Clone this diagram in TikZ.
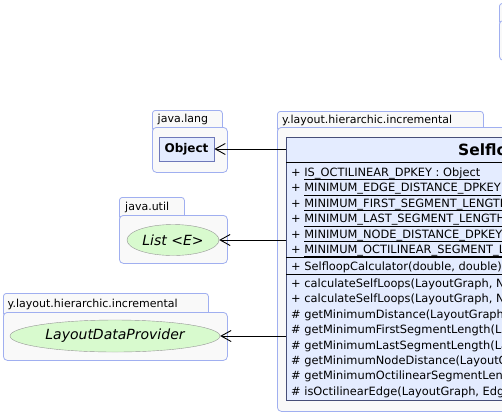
\documentclass[tikz,border=0pt]{standalone}
\usepackage{fontspec}
\setmainfont{DejaVu Sans}
\usetikzlibrary{shapes,arrows.meta}
\definecolor{pkgline}{RGB}{160,175,240}
\definecolor{pkgfill}{RGB}{249,249,249}
\definecolor{classfill}{RGB}{228,236,255}
\definecolor{classline}{RGB}{70,78,120}
\definecolor{objline}{RGB}{110,120,185}
\definecolor{ifacefill}{RGB}{216,250,206}
\definecolor{ifaceline}{RGB}{150,150,150}
\newcommand{\fieldname}[1]{\setbox0=\hbox{#1}\rlap{\rule[-3.4pt]{\wd0}{0.6pt}}\box0}
\tikzstyle{pkgtab} = [rectangle, rounded corners=3pt, anchor=north west, draw=pkgline, line width=0.8pt, fill=pkgfill, inner sep=0pt]
\tikzstyle{package} = [pkgtab, rounded corners=4pt]
\tikzstyle{pkglabel} = [anchor=base west, inner sep=0pt, font=\fontsize{11}{13}\selectfont]
\tikzstyle{classbox} = [rectangle, anchor=north west, draw=classline, fill=classfill, line width=0.9pt, inner sep=0pt]
\tikzstyle{iface} = [ellipse, draw=ifaceline, fill=ifacefill, inner sep=0pt, font=\fontsize{14}{16}\selectfont\itshape]
\tikzstyle{member} = [anchor=base west, inner sep=0pt, font=\fontsize{11.4}{13}\selectfont]
\tikzstyle{sep} = [line width=0.9pt]
\tikzstyle{arrow} = [line width=0.9pt, -{Straight Barb[length=10pt,width=11pt]}]

\begin{document}
\begin{tikzpicture}[x=1pt, y=-1pt]
\useasboundingbox (0,0) rectangle (502,416);
\clip (0,0) rectangle (502,416);

\node (toptab) [pkgtab, minimum width=40pt, minimum height=21pt] at (499,3) {};
\node (toppkg) [package, minimum width=100pt, minimum height=40pt] at (499,20) {};

\node (langtab) [pkgtab, minimum width=70pt, minimum height=21pt] at (152,110) {};
\node (langpkg) [package, minimum width=75pt, minimum height=45pt] at (152,127) {};
\node (langlabel) [pkglabel] at (157.5,122.5) {java.lang};
\node (obj) [classbox, anchor=center, draw=objline, line width=0.7pt, minimum width=55pt, minimum height=24pt, font=\bfseries\fontsize{12}{14}\selectfont] at (186.5,149) {Object};

\node (utiltab) [pkgtab, minimum width=65pt, minimum height=22pt] at (119,197) {};
\node (utilpkg) [package, minimum width=108pt, minimum height=48pt] at (119,215) {};
\node (utillabel) [pkglabel] at (125,210.5) {java.util};
\node (list) [iface, minimum width=92pt, minimum height=31pt] at (173,240) {List <E>};

\node (ldptab) [pkgtab, minimum width=205pt, minimum height=23pt] at (3,293) {};
\node (ldppkg) [package, minimum width=224pt, minimum height=48pt] at (3,312) {};
\node (ldplabel) [pkglabel] at (7.5,307.5) {y.layout.hierarchic.incremental};
\node (ldp) [iface, minimum width=210pt, minimum height=32pt] at (115,336) {LayoutDataProvider};

\node (inctab) [pkgtab, minimum width=206pt, minimum height=20pt] at (277,111) {};
\node (incpkg) [package, minimum width=330pt, minimum height=284pt] at (277,127) {};
\node (inclabel) [pkglabel] at (282,123) {y.layout.hierarchic.incremental};

\node (calc) [classbox, minimum width=320pt, minimum height=263pt] at (286,137) {};
\node (title) [anchor=base west, inner sep=0pt, font=\bfseries\fontsize{15.5}{18}\selectfont] at (458,155.5) {SelfloopCalculator};
\draw [sep] (286,162) -- (606,162);
\draw [sep, line width=1.6pt] (286,257.5) -- (606,257.5);
\draw [sep] (286,274) -- (606,274);

\node (f1) [member] at (291,176.5) {+ \fieldname{IS\_OCTILINEAR\_DPKEY : Object}};
\node (f2) [member] at (291,191.9) {+ \fieldname{MINIMUM\_EDGE\_DISTANCE\_DPKEY}};
\node (f3) [member] at (291,207.3) {+ \fieldname{MINIMUM\_FIRST\_SEGMENT\_LENGTH}};
\node (f4) [member] at (291,222.7) {+ \fieldname{MINIMUM\_LAST\_SEGMENT\_LENGTH}};
\node (f5) [member] at (291,238.1) {+ \fieldname{MINIMUM\_NODE\_DISTANCE\_DPKEY}};
\node (f6) [member] at (291,253.5) {+ \fieldname{MINIMUM\_OCTILINEAR\_SEGMENT\_L}};
\node (c1) [member] at (291,270.5) {+ SelfloopCalculator(double, double)};
\node (m1) [member] at (291,287.5) {+ calculateSelfLoops(LayoutGraph, N};
\node (m2) [member] at (291,302.9) {+ calculateSelfLoops(LayoutGraph, N};
\node (m3) [member] at (291,318.3) {\# getMinimumDistance(LayoutGraph,};
\node (m4) [member] at (291,333.7) {\# getMinimumFirstSegmentLength(La};
\node (m5) [member] at (291,349.1) {\# getMinimumLastSegmentLength(La};
\node (m6) [member] at (291,364.5) {\# getMinimumNodeDistance(LayoutG};
\node (m7) [member] at (291,379.9) {\# getMinimumOctilinearSegmentLeng};
\node (m8) [member] at (291,395.3) {\# isOctilinearEdge(LayoutGraph, Edg};

\draw [arrow] (calc.west |- obj.east) -- (obj.east);
\draw [arrow] (calc.west |- list.east) -- (list.east);
\draw [arrow] (calc.west |- ldp.east) -- (ldp.east);
\end{tikzpicture}
\end{document}
